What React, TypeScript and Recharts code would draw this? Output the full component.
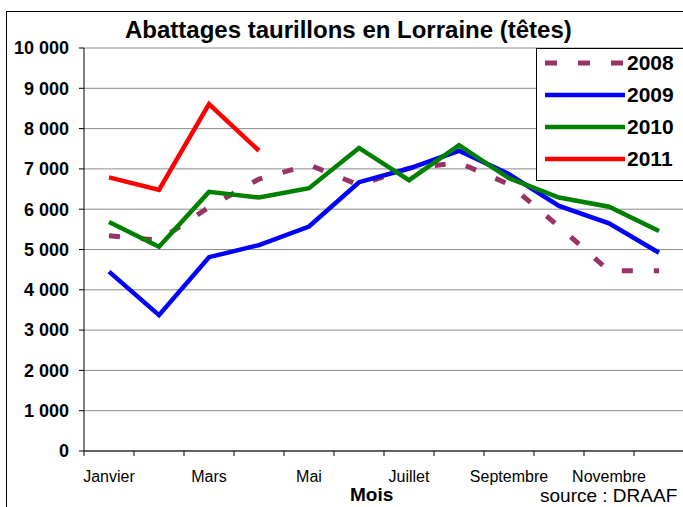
import React from "react";
import { LineChart, Line, XAxis, YAxis, CartesianGrid } from "recharts";

const FONT = "'Liberation Sans', Arial, sans-serif";

// Monthly data
const months = ["Janvier", "Février", "Mars", "Avril", "Mai", "Juin", "Juillet", "Août", "Septembre", "Octobre", "Novembre", "Décembre"];
const y2008 = [5340, 5230, 6050, 6750, 7100, 6600, 7020, 7150, 6620, 5570, 4470, 4470];
const y2009 = [4450, 3370, 4810, 5110, 5570, 6670, 7010, 7450, 6870, 6080, 5650, 4920];
const y2010 = [5680, 5070, 6430, 6290, 6520, 7520, 6720, 7590, 6770, 6290, 6060, 5460];
const y2011 = [6790, 6480, 8610, 7450, null, null, null, null, null, null, null, null];
const yTicks = [0, 1000, 2000, 3000, 4000, 5000, 6000, 7000, 8000, 9000, 10000];

const series = [
    { key: "2008", color: "#993366", dash: "11 21", width: 5 },
    { key: "2009", color: "#0000ff", dash: undefined, width: 4.5 },
    { key: "2010", color: "#008000", dash: undefined, width: 4.5 },
    { key: "2011", color: "#ff0000", dash: undefined, width: 4.5 },
];

const data = months.map((m, i) => ({
    mois: m,
    "2008": y2008[i],
    "2009": y2009[i],
    "2010": y2010[i],
    "2011": y2011[i],
}));

// "10000" -> "10 000"
function fmtThousands(v: number) {
    return String(v).replace(/\B(?=(\d{3})+(?!\d))/g, " ");
}

// Excel style category ticks: marks between months, every other label
function MonthTick(props: any) {
    const { x, y, index, payload } = props;
    const half = 25;
    return (
        <g>
            <line x1={x - half} x2={x - half} y1={y} y2={y + 5} stroke="#000" />
            {index === months.length - 1 && <line x1={x + half} x2={x + half} y1={y} y2={y + 5} stroke="#000" />}
            {index % 2 === 0 && (
                <text x={x} y={y + 31} textAnchor="middle" fontSize={16} fontFamily={FONT} fill="#000">
                    {payload.value}
                </text>
            )}
        </g>
    );
}

function LegendBox() {
    return (
        <div style={{ position: "absolute", left: 536, top: 48, background: "#fff", border: "1px solid #000", width: 160, height: 133, boxSizing: "border-box" }}>
            {series.map((s, i) => (
                <div key={s.key} style={{ position: "absolute", left: 0, top: 0 + i * 32, height: 28, display: "flex", alignItems: "center" }}>
                    <svg width={90} height={10} style={{ display: "block" }}>
                        <line x1={8} x2={88} y1={5} y2={5} stroke={s.color} strokeWidth={s.width} strokeDasharray={s.dash ? "12 21" : undefined} />
                    </svg>
                    <span style={{ fontFamily: FONT, fontWeight: "bold", fontSize: 21, color: "#000", marginLeft: 0 }}>{s.key}</span>
                </div>
            ))}
        </div>
    );
}

export default function App() {
    return (
        <div style={{ position: "absolute", left: 0, top: 0, width: 683, height: 507, overflow: "hidden", background: "#fff" }}>
            <div style={{ position: "absolute", left: 6, top: 11, width: 800, height: 600, borderLeft: "1px solid #000", borderTop: "1px solid #000" }} />
            <div style={{ position: "absolute", left: 125, top: 16, whiteSpace: "nowrap", fontFamily: FONT, fontWeight: "bold", fontSize: 24 }}>
                Abattages taurillons en Lorraine (têtes)
            </div>
            <LineChart width={690} height={507} data={data} margin={{ top: 48, right: 6, left: 0, bottom: 0 }} style={{ position: "absolute", left: 0, top: 0 }}>
                <CartesianGrid vertical={false} stroke="#8c8c8c" />
                <XAxis
                    dataKey="mois"
                    height={56}
                    interval={0}
                    padding={{ left: 25, right: 25 }}
                    axisLine={{ stroke: "#000" }}
                    tickLine={false}
                    tickSize={0}
                    tickMargin={0}
                    tick={<MonthTick />}
                />
                <YAxis
                    width={84}
                    domain={[0, 10000]}
                    ticks={yTicks}
                    interval={0}
                    tickFormatter={fmtThousands}
                    axisLine={{ stroke: "#000" }}
                    tickLine={{ stroke: "#000" }}
                    tickSize={5}
                    tickMargin={10}
                    tick={{ fill: "#000", fontSize: 18, fontWeight: "bold", fontFamily: FONT }}
                />
                {series.map(s => (
                    <Line
                        key={s.key}
                        type="linear"
                        dataKey={s.key}
                        stroke={s.color}
                        strokeWidth={s.width}
                        strokeDasharray={s.dash}
                        dot={false}
                        activeDot={false}
                        connectNulls={false}
                        isAnimationActive={false}
                    />
                ))}
            </LineChart>
            <LegendBox />
            <div style={{ position: "absolute", left: 350, top: 484, fontFamily: FONT, fontWeight: "bold", fontSize: 19 }}>Mois</div>
            <div style={{ position: "absolute", left: 540, top: 485, fontFamily: FONT, fontSize: 19 }}>source : DRAAF</div>
        </div>
    );
}
